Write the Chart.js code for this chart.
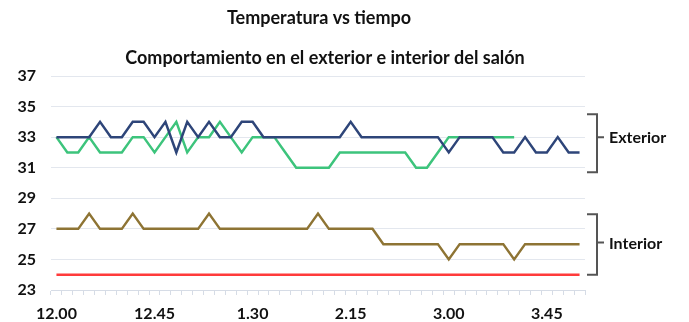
<!DOCTYPE html>
<html>
<head>
<meta charset="utf-8">
<script src="https://cdn.jsdelivr.net/npm/chart.js@4.4.1/dist/chart.umd.min.js"></script>
<style>
  html, body { margin: 0; padding: 0; background: #fff; }
  #wrap { width: 689px; height: 322px; }
</style>
</head>
<body>
<div id="wrap"><canvas id="grafica"></canvas></div>
<script>
// horas cada 5 minutos, 12.00 a 4.00
var horas = ['12.00','12.05','12.10','12.15','12.20','12.25','12.30','12.35','12.40','12.45','12.50','12.55',
             '1.00','1.05','1.10','1.15','1.20','1.25','1.30','1.35','1.40','1.45','1.50','1.55',
             '2.00','2.05','2.10','2.15','2.20','2.25','2.30','2.35','2.40','2.45','2.50','2.55',
             '3.00','3.05','3.10','3.15','3.20','3.25','3.30','3.35','3.40','3.45','3.50','3.55','4.00'];

var exteriorAzul = [33,33,33,33,34,33,33,34,34,33,34,32,34,33,34,33,33,34,34,33,33,33,33,33,33,
                    33,33,34,33,33,33,33,33,33,33,33,32,33,33,33,33,32,32,33,32,32,33,32,32];
var exteriorVerde = [33,32,32,33,32,32,32,33,33,32,33,34,32,33,33,34,33,32,33,33,33,32,31,31,31,
                     31,32,32,32,32,32,32,32,31,31,32,33,33,33,33,33,33,33];
var interior = [27,27,27,28,27,27,27,28,27,27,27,27,27,27,28,27,27,27,27,27,27,27,27,27,28,
                27,27,27,27,27,26,26,26,26,26,26,25,26,26,26,26,26,25,26,26,26,26,26,26];
var referencia = [24,24,24,24,24,24,24,24,24,24,24,24,24,24,24,24,24,24,24,24,24,24,24,24,24,
                  24,24,24,24,24,24,24,24,24,24,24,24,24,24,24,24,24,24,24,24,24,24,24,24];

var yTicks = [23, 25, 27, 29, 31, 33, 35, 37];
var titulo = 'Temperatura vs tiempo';
var subtitulo = 'Comportamiento en el exterior e interior del salón';
var llaves = [
  { texto: 'Exterior', arriba: 34.5, abajo: 30.7, medio: 33.0 },
  { texto: 'Interior', arriba: 27.95, abajo: 24.0, medio: 26.1 }
];

var fuente = 'Lato, "Open Sans", sans-serif';

var extras = {
  id: 'extras',
  afterDraw: function (chart) {
    var ctx = chart.ctx;
    var y = chart.scales.y;
    var right = chart.chartArea.right;
    ctx.save();
    ctx.fillStyle = '#111';
    ctx.textAlign = 'center';
    ctx.textBaseline = 'middle';
    ctx.font = 'bold 18px ' + fuente;
    ctx.fillText(titulo, 319, 18);
    ctx.fillText(subtitulo, 325, 58);

    ctx.strokeStyle = '#555';
    ctx.lineWidth = 2;
    ctx.font = 'bold 16px ' + fuente;
    llaves.forEach(function (l) {
      var t = y.getPixelForValue(l.arriba);
      var b = y.getPixelForValue(l.abajo);
      var m = y.getPixelForValue(l.medio);
      var x = right + 12;
      ctx.beginPath();
      ctx.moveTo(x - 10, t);
      ctx.lineTo(x, t);
      ctx.lineTo(x, b);
      ctx.lineTo(x - 10, b);
      ctx.moveTo(x, m);
      ctx.lineTo(x + 7, m);
      ctx.stroke();
      ctx.textAlign = 'left';
      ctx.fillText(l.texto, x + 12, m + 1);
    });
    ctx.restore();
  }
};

var chartdata = {
  labels: horas,
  datasets: [
    { label: 'Exterior 1', data: exteriorAzul, borderColor: '#2E4579', borderWidth: 2.5 },
    { label: 'Exterior 2', data: exteriorVerde, borderColor: '#3DC47C', borderWidth: 2.5 },
    { label: 'Interior', data: interior, borderColor: '#8E7434', borderWidth: 2.5 },
    { label: 'Referencia', data: referencia, borderColor: '#FF3B3B', borderWidth: 2.5 }
  ]
};

var ctx = document.getElementById('grafica');
var grafica = new Chart(ctx, {
  type: 'line',
  data: chartdata,
  plugins: [extras],
  options: {
    responsive: true,
    maintainAspectRatio: false,
    animation: false,
    elements: { point: { radius: 0 }, line: { tension: 0, borderJoinStyle: 'miter' } },
    layout: { padding: { top: 76, right: 104, bottom: 0, left: 0 } },
    plugins: { legend: { display: false }, tooltip: { enabled: false } },
    scales: {
      x: {
        offset: true,
        afterFit: function (s) { s.height = 32; },
        grid: { offset: true, drawOnChartArea: false, tickLength: 5, color: '#D6DCE6' },
        border: { color: '#D6DCE6' },
        ticks: {
          autoSkip: false, maxRotation: 0, padding: 9, color: '#111',
          font: { family: fuente, size: 16, weight: 'bold' },
          callback: function (v, i) { return i % 9 === 0 ? horas[i] : ''; }
        }
      },
      y: {
        min: 23, max: 37,
        afterBuildTicks: function (s) { s.ticks = yTicks.map(function (v) { return { value: v }; }); },
        afterFit: function (s) { s.width = 51; },
        grid: { color: '#E3E7EE', drawTicks: false },
        border: { display: false },
        ticks: {
          padding: 15, color: '#111',
          font: { family: fuente, size: 16, weight: 'bold' }
        }
      }
    }
  }
});
</script>
</body>
</html>
